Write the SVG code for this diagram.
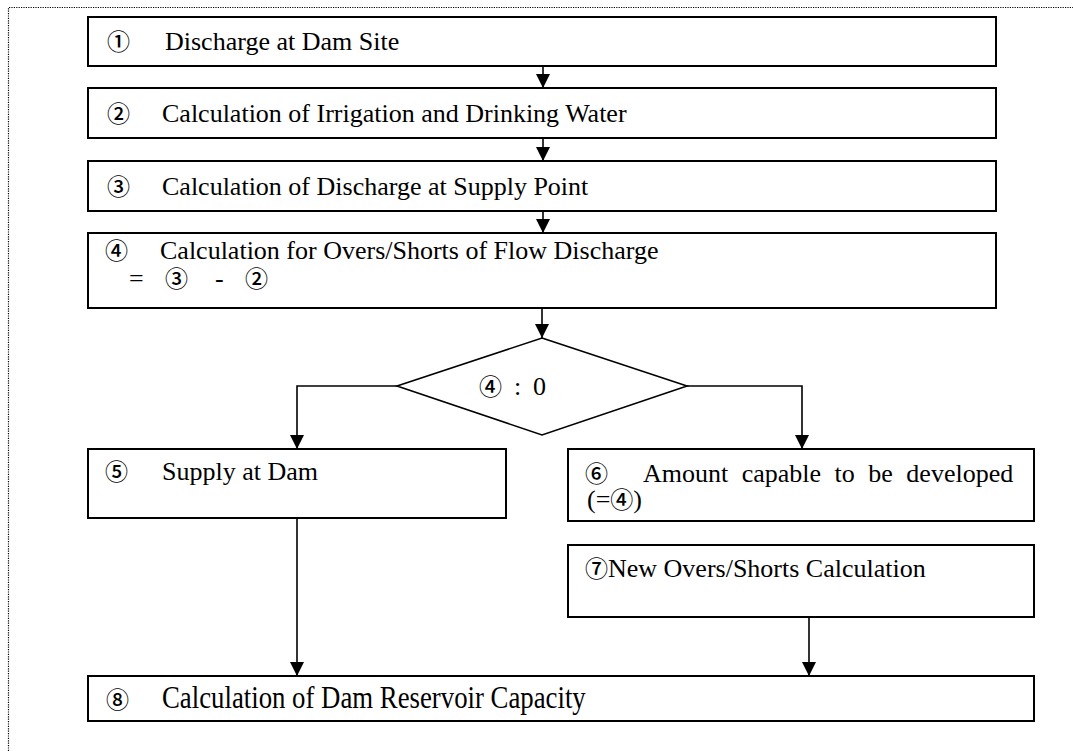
<svg xmlns="http://www.w3.org/2000/svg" width="1073" height="751" viewBox="0 0 1073 751">
<style>
.box{fill:#fff;stroke:#000;stroke-width:2}
.t{font-family:"Liberation Serif","Times New Roman",serif;font-size:26px;fill:#000}
.c{font-family:"Noto Sans CJK JP","DejaVu Sans",sans-serif;font-size:23px;font-weight:500;fill:#000}
.ln{fill:none;stroke:#000;stroke-width:1.6}
.frame{fill:none;stroke:#000;stroke-width:1.2;stroke-dasharray:1.2 1.2}
</style>
<defs>
<marker id="ah" markerUnits="userSpaceOnUse" markerWidth="14" markerHeight="14" refX="14" refY="7" orient="auto" viewBox="0 0 14 14">
<path d="M0,0 L14,7 L0,14 Z" fill="#000"/>
</marker>
</defs>
<rect width="1073" height="751" fill="#fff"/>
<path class="frame" d="M8.5,751 V7.5 H1073"/>

<g id="connectors">
<line class="ln" x1="543" y1="66" x2="543" y2="88" marker-end="url(#ah)"/>
<line class="ln" x1="543" y1="138" x2="543" y2="161" marker-end="url(#ah)"/>
<line class="ln" x1="543" y1="211" x2="543" y2="233" marker-end="url(#ah)"/>
<line class="ln" x1="542" y1="308" x2="542" y2="338" marker-end="url(#ah)"/>
<polyline class="ln" points="397,386 297,386 297,449" marker-end="url(#ah)"/>
<polyline class="ln" points="687,386 802,386 802,449" marker-end="url(#ah)"/>
<line class="ln" x1="297" y1="518" x2="297" y2="676" marker-end="url(#ah)"/>
<line class="ln" x1="809" y1="617" x2="809" y2="676" marker-end="url(#ah)"/>
</g>

<g id="n1">
<rect class="box" x="88" y="17" width="908" height="49"/>
<text class="c" x="107" y="50">①</text>
<text class="t" x="165" y="50">Discharge at Dam Site</text>
</g>
<g id="n2">
<rect class="box" x="88" y="88" width="908" height="50"/>
<text class="c" x="107" y="122">②</text>
<text class="t" x="162" y="122">Calculation of Irrigation and Drinking Water</text>
</g>
<g id="n3">
<rect class="box" x="88" y="161" width="908" height="50"/>
<text class="c" x="107" y="195">③</text>
<text class="t" x="162" y="195">Calculation of Discharge at Supply Point</text>
</g>
<g id="n4">
<rect class="box" x="88" y="233" width="908" height="75"/>
<text class="c" x="105" y="259">④</text>
<text class="t" x="160" y="259">Calculation for Overs/Shorts of Flow Discharge</text>
<text class="t" x="129" y="287">=</text>
<text class="c" x="165" y="287">③</text>
<text class="t" x="215" y="287">-</text>
<text class="c" x="245" y="287">②</text>
</g>
<g id="decision">
<polygon points="542,338 687,386 542,435 397,386" fill="#fff" stroke="#000" stroke-width="1.6"/>
<text class="c" x="479" y="395">④</text>
<text class="t" x="514" y="395">:</text>
<text class="t" x="533" y="395">0</text>
</g>
<g id="n5">
<rect class="box" x="88" y="449" width="418" height="69"/>
<text class="c" x="105" y="480">⑤</text>
<text class="t" x="162" y="480">Supply at Dam</text>
</g>
<g id="n6">
<rect class="box" x="568" y="449" width="466" height="72"/>
<text class="c" x="585" y="482">⑥</text>
<text class="t" x="643" y="482" word-spacing="7">Amount capable to be developed</text>
<text class="t" x="587" y="508">(=<tspan class="c">④</tspan>)</text>
</g>
<g id="n7">
<rect class="box" x="568" y="545" width="466" height="72"/>
<text class="c" x="585" y="577">⑦</text>
<text class="t" x="608" y="577">New Overs/Shorts Calculation</text>
</g>
<g id="n8">
<rect class="box" x="88" y="676" width="946" height="45"/>
<text class="c" x="106" y="708">⑧</text>
<text class="t" transform="translate(162,708) scale(1.03,1.2)" x="0" y="0">Calculation of Dam Reservoir Capacity</text>
</g>
</svg>
